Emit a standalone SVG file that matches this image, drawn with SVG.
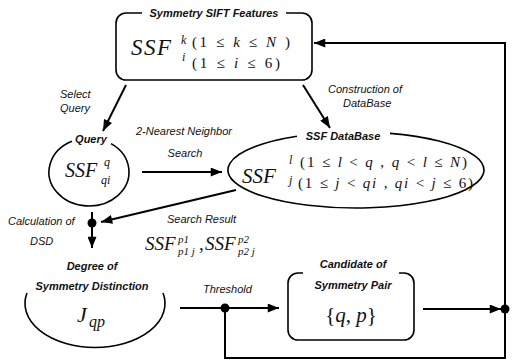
<svg xmlns="http://www.w3.org/2000/svg" width="514" height="364" viewBox="0 0 514 364">
<style>
.shape{fill:none;stroke:#000;stroke-width:1.6}
.conn{fill:none;stroke:#000;stroke-width:2}
.lbl{font-family:"Liberation Sans",Arial,sans-serif;font-style:italic;font-size:11px;fill:#111}
.ttl{font-family:"Liberation Sans",Arial,sans-serif;font-style:italic;font-weight:bold;font-size:11px;fill:#111}
.m{font-family:"Liberation Serif","Times New Roman",serif;font-style:italic;fill:#111}
.mu{font-family:"Liberation Serif","Times New Roman",serif;fill:#111}
.dot{fill:#000}
</style>
<defs>
<marker id="ah" viewBox="0 0 10 8" refX="10" refY="4" markerWidth="12" markerHeight="9" orient="auto" markerUnits="userSpaceOnUse">
<path d="M0,0 L10,4 L0,8 z" fill="#000"/>
</marker>
</defs>
<rect width="514" height="364" fill="#fff"/>

<g id="connectors">
<line class="conn" x1="126" y1="85" x2="103" y2="131" marker-end="url(#ah)"/>
<line class="conn" x1="303" y1="85" x2="330" y2="128" marker-end="url(#ah)"/>
<line class="conn" x1="142" y1="172" x2="222" y2="172" marker-end="url(#ah)"/>
<line class="conn" x1="236" y1="190" x2="101" y2="222" marker-end="url(#ah)"/>
<line class="conn" x1="92" y1="212" x2="92" y2="223"/>
<line class="conn" x1="92" y1="223" x2="92" y2="248" marker-end="url(#ah)"/>
<circle class="dot" cx="92" cy="223" r="4.5"/>
<line class="conn" x1="180" y1="308" x2="279" y2="308" marker-end="url(#ah)"/>
<circle class="dot" cx="225" cy="308" r="4.5"/>
<line class="conn" x1="423" y1="309" x2="501" y2="309" marker-end="url(#ah)"/>
<circle class="dot" cx="505" cy="309" r="4.5"/>
<polyline class="conn" points="225,308 225,358 505,358 505,43 314,43" marker-end="url(#ah)"/>
<text class="lbl" x="60" y="98">Select</text>
<text class="lbl" x="60" y="112">Query</text>
<text class="lbl" x="328" y="93">Construction of</text>
<text class="lbl" x="343" y="107">DataBase</text>
<text class="lbl" x="184" y="135" text-anchor="middle">2-Nearest Neighbor</text>
<text class="lbl" x="185" y="157" text-anchor="middle">Search</text>
<text class="lbl" x="8" y="225">Calculation of</text>
<text class="lbl" x="30" y="245">DSD</text>
<text class="lbl" x="167" y="223">Search Result</text>
<text class="m" x="145" y="250" font-size="19">SSF</text>
<text class="m" x="178" y="243" font-size="11">p<tspan class="mu">1</tspan></text>
<text class="m" x="178" y="255" font-size="11">p<tspan class="mu">1</tspan> j</text>
<text class="mu" x="199" y="250" font-size="19">,</text>
<text class="m" x="205" y="250" font-size="19">SSF</text>
<text class="m" x="238" y="243" font-size="11">p<tspan class="mu">2</tspan></text>
<text class="m" x="238" y="255" font-size="11">p<tspan class="mu">2</tspan> j</text>
<text class="lbl" x="203" y="293">Threshold</text>
</g>

<g id="ssf-features">
<path class="shape" d="M142 13 H126 A10 10 0 0 0 116 23 V70 A10 10 0 0 0 126 80 H302 A10 10 0 0 0 312 70 V23 A10 10 0 0 0 302 13 H286"/>
<text class="ttl" x="214" y="17" text-anchor="middle">Symmetry SIFT Features</text>
<text class="m" x="131" y="55" font-size="23" letter-spacing="1.5">SSF</text>
<text class="m" x="181" y="44" font-size="12">k</text>
<text class="m" x="182" y="61" font-size="12">i</text>
<text class="mu" x="192" y="47" font-size="15" textLength="98" xml:space="preserve">(1 ≤ <tspan class="m">k</tspan> ≤ <tspan class="m">N</tspan> )</text>
<text class="mu" x="192" y="68" font-size="15" textLength="88" xml:space="preserve">(1 ≤ <tspan class="m">i</tspan> ≤ 6)</text>
</g>

<g id="query">
<path class="shape" d="M72 141.2 A40 34 0 1 0 111 143.6"/>
<text class="ttl" x="91" y="143" text-anchor="middle">Query</text>
<text class="m" x="65" y="177" font-size="20">SSF</text>
<text class="m" x="104" y="166" font-size="12">q</text>
<text class="m" x="101" y="184" font-size="12">qi</text>
</g>

<g id="ssf-database">
<path class="shape" d="M297 136.3 A128 38 0 1 0 390 133.4"/>
<text class="ttl" x="343" y="140" text-anchor="middle">SSF DataBase</text>
<text class="m" x="242" y="183" font-size="21">SSF</text>
<text class="m" x="289" y="164" font-size="12">l</text>
<text class="m" x="289" y="184" font-size="12">j</text>
<text class="mu" x="300" y="167" font-size="15" textLength="167" xml:space="preserve">(1 ≤ <tspan class="m">l</tspan> &lt; <tspan class="m">q</tspan> , <tspan class="m">q</tspan> &lt; <tspan class="m">l</tspan> ≤ <tspan class="m">N</tspan>)</text>
<text class="mu" x="298" y="188" font-size="15" textLength="175" xml:space="preserve">(1 ≤ <tspan class="m">j</tspan> &lt; <tspan class="m">qi</tspan> , <tspan class="m">qi</tspan> &lt; <tspan class="m">j</tspan> ≤ 6)</text>
</g>

<g id="dsd">
<text class="ttl" x="92" y="270" text-anchor="middle">Degree of</text>
<text class="ttl" x="92" y="290" text-anchor="middle">Symmetry Distinction</text>
<path class="shape" d="M27 293 A70 44 0 1 0 163 293"/>
<text class="m" x="77" y="322" font-size="22">J</text>
<text class="m" x="89" y="327" font-size="16">qp</text>
</g>

<g id="candidate">
<text class="ttl" x="353" y="268" text-anchor="middle">Candidate of</text>
<text class="ttl" x="353" y="289" text-anchor="middle">Symmetry Pair</text>
<path class="shape" d="M303 273 H298 A10 10 0 0 0 288 283 V330 A10 10 0 0 0 298 340 H404 A10 10 0 0 0 414 330 V283 A10 10 0 0 0 404 273 H399"/>
<text class="mu" x="351" y="322" font-size="21" text-anchor="middle">{<tspan class="m">q</tspan>, <tspan class="m">p</tspan>}</text>
</g>
</svg>
